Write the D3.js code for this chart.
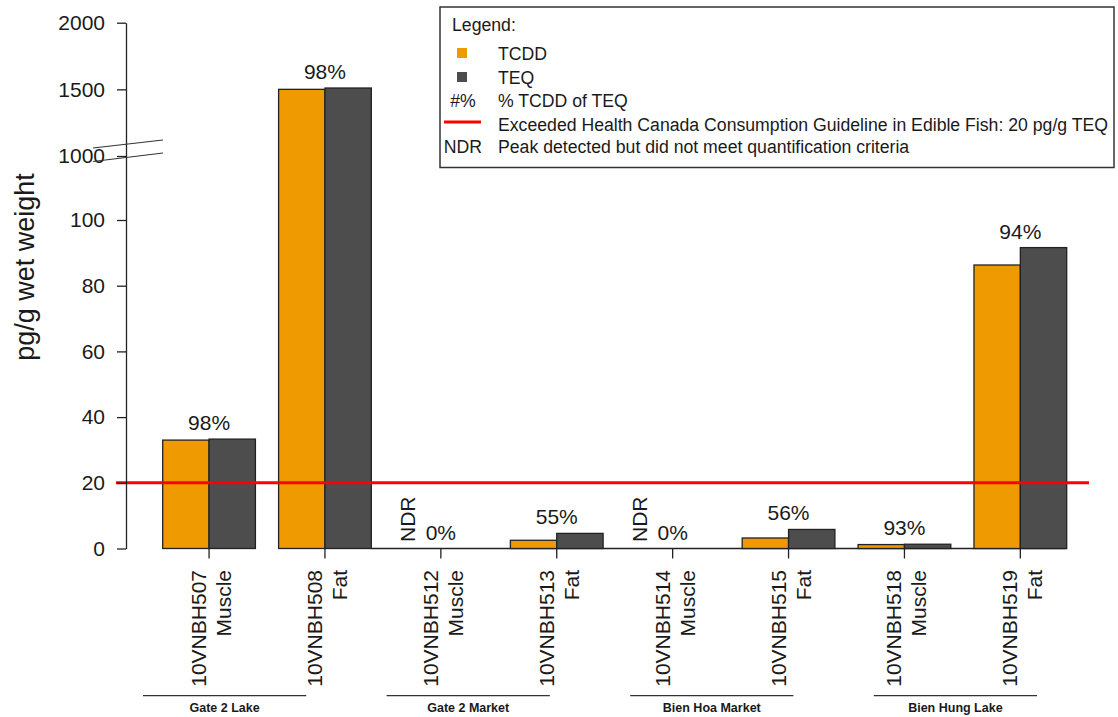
<!DOCTYPE html>
<html>
<head>
<meta charset="utf-8">
<script src="https://cdn.jsdelivr.net/npm/d3@7"></script>
<style>
  body { margin: 0; background: #fff; }
  text { font-family: "Liberation Sans", Arial, sans-serif; fill: #1a1a1a; }
</style>
</head>
<body>
<div class="chart"></div>
<script>
// sample data
var samples = ["10VNBH507", "10VNBH508", "10VNBH512", "10VNBH513", "10VNBH514", "10VNBH515", "10VNBH518", "10VNBH519"];
var tissue = ["Muscle", "Fat", "Muscle", "Fat", "Muscle", "Fat", "Muscle", "Fat"];
var tcdd = [33, 1500, 0, 2.5, 0, 3.2, 1.2, 86.3];
var teq = [33.3, 1510, 0, 4.6, 0, 5.8, 1.3, 91.6];
var pct = ["98%", "98%", "0%", "55%", "0%", "56%", "93%", "94%"];
var ndr = [false, false, true, false, true, false, false, false];
var groups = ["Gate 2 Lake", "Gate 2 Market", "Bien Hoa Market", "Bien Hung Lake"];
var yTicks = [0, 20, 40, 60, 80, 100, 1000, 1500, 2000];
var guideline = 20;

var series = ["TCDD", "TEQ"];
var colors = { TCDD: "#EE9A00", TEQ: "#4D4D4D" };

var width = 1118, height = 717;

var svg = d3.select(".chart").append("svg")
  .attr("width", width)
  .attr("height", height);

// broken axis: 0-100 on the bottom, 1000-2000 on top
var y = d3.scaleLinear()
  .domain([0, 100, 1000, 2000])
  .range([548.5, 220, 156, 22.7]);

var x = d3.scaleBand()
  .domain(samples)
  .range([162.7, 1066.7])
  .paddingInner(0.2)
  .paddingOuter(0);

var xs = d3.scaleBand()
  .domain(series)
  .range([0, x.bandwidth()]);

var xg = d3.scaleBand()
  .domain(groups)
  .range([143, 1037])
  .paddingInner(0.33)
  .paddingOuter(0);

var rows = samples.map(function(s, i) {
  return { sample: s, tissue: tissue[i], TCDD: tcdd[i], TEQ: teq[i], pct: pct[i], ndr: ndr[i] };
});

// baseline under the flat bars
svg.append("line")
  .attr("x1", x(samples[1]) + x.bandwidth())
  .attr("x2", x(samples[7]) + x.bandwidth())
  .attr("y1", y(0)).attr("y2", y(0))
  .attr("stroke", "#222").attr("stroke-width", 1.3);

// bars
var bar_g = svg.selectAll(".grp")
  .data(rows)
  .enter().append("g")
  .attr("class", "grp")
  .attr("transform", function(d) { return "translate(" + x(d.sample) + ",0)"; });

bar_g.selectAll("rect")
  .data(function(d) { return series.map(function(k) { return { key: k, value: d[k] }; }); })
  .enter().append("rect")
  .filter(function(d) { return d.value > 0; })
  .attr("x", function(d) { return xs(d.key); })
  .attr("width", xs.bandwidth())
  .attr("y", function(d) { return y(d.value); })
  .attr("height", function(d) { return y(0) - y(d.value); })
  .attr("fill", function(d) { return colors[d.key]; })
  .attr("stroke", "#222")
  .attr("stroke-width", 1.3);

// percentage labels
bar_g.append("text")
  .attr("x", x.bandwidth() / 2)
  .attr("y", function(d) { return y(Math.max(d.TCDD, d.TEQ)) - 9; })
  .attr("text-anchor", "middle")
  .attr("font-size", "21px")
  .text(function(d) { return d.pct; });

// NDR marks
bar_g.filter(function(d) { return d.ndr; })
  .append("text")
  .attr("transform", "translate(" + (xs("TCDD") + xs.bandwidth() / 2 - 2.5) + ",542) rotate(-90)")
  .attr("font-size", "21px")
  .text("NDR");

// guideline
svg.append("line")
  .attr("x1", 116).attr("x2", 1089)
  .attr("y1", y(guideline)).attr("y2", y(guideline))
  .attr("stroke", "#ff0000").attr("stroke-width", 3);

// y axis
var yAxis = svg.append("g")
  .attr("transform", "translate(126,0)")
  .call(d3.axisLeft(y).tickValues(yTicks).tickFormat(d3.format("d"))
    .tickSize(9).tickPadding(12).tickSizeOuter(0));
yAxis.select(".domain").attr("stroke", "#222").attr("stroke-width", 1.3);
yAxis.selectAll(".tick line").attr("stroke", "#222").attr("stroke-width", 1.3);
yAxis.selectAll(".tick text")
  .attr("font-size", "21px")
  .attr("font-family", "Liberation Sans, Arial, sans-serif")
  .attr("fill", "#1a1a1a");

// break marks
[[148, 140], [161.5, 153]].forEach(function(p) {
  svg.append("line")
    .attr("x1", 93).attr("y1", p[0])
    .attr("x2", 163).attr("y2", p[1])
    .attr("stroke", "#333").attr("stroke-width", 1.1);
});

svg.append("text")
  .attr("transform", "translate(34,267) rotate(-90)")
  .attr("text-anchor", "middle")
  .attr("font-size", "27px")
  .text("pg/g wet weight");

// x axis ticks
var xAxis = svg.append("g")
  .attr("transform", "translate(0," + y(0) + ")")
  .call(d3.axisBottom(x).tickSize(10).tickFormat(""));
xAxis.select(".domain").remove();
xAxis.selectAll(".tick line").attr("stroke", "#222").attr("stroke-width", 1.3);

// two-line rotated sample labels
var lab = svg.selectAll(".xlab")
  .data(rows)
  .enter().append("g")
  .attr("class", "xlab")
  .attr("transform", function(d) { return "translate(" + (x(d.sample) + x.bandwidth() / 2) + ",570)"; });

lab.append("text")
  .attr("transform", "translate(-3,0) rotate(-90)")
  .attr("text-anchor", "end")
  .attr("font-size", "21px")
  .text(function(d) { return d.sample; });

lab.append("text")
  .attr("transform", "translate(22,0) rotate(-90)")
  .attr("text-anchor", "end")
  .attr("font-size", "21px")
  .text(function(d) { return d.tissue; });

// location groups
var grp = svg.selectAll(".loc")
  .data(groups)
  .enter().append("g")
  .attr("class", "loc");

grp.append("line")
  .attr("x1", function(d) { return xg(d); })
  .attr("x2", function(d) { return xg(d) + xg.bandwidth(); })
  .attr("y1", 695.7).attr("y2", 695.7)
  .attr("stroke", "#333").attr("stroke-width", 1.2);

grp.append("text")
  .attr("x", function(d) { return xg(d) + xg.bandwidth() / 2; })
  .attr("y", 712)
  .attr("text-anchor", "middle")
  .attr("font-size", "12.5px")
  .attr("font-weight", "bold")
  .text(function(d) { return d; });

// legend
var leg = svg.append("g");
leg.append("rect")
  .attr("x", 440).attr("y", 7)
  .attr("width", 674).attr("height", 160.5)
  .attr("fill", "#fff")
  .attr("stroke", "#333").attr("stroke-width", 1.5);

// legend text is a little narrow in the original
function legText(tx, ty, str, anchor) {
  leg.append("text")
    .attr("transform", "translate(" + tx + "," + ty + ") scale(0.93,1)")
    .attr("text-anchor", anchor || "start")
    .attr("font-size", "19px")
    .text(str);
}

legText(452, 31, "Legend:");

var legRows = [
  { mark: "TCDD", label: "TCDD", y: 60 },
  { mark: "TEQ", label: "TEQ", y: 84 },
  { mark: "#%", label: "% TCDD of TEQ", y: 107 },
  { mark: "line", label: "Exceeded Health Canada Consumption Guideline in Edible Fish: 20 pg/g TEQ", y: 131 },
  { mark: "NDR", label: "Peak detected but did not meet quantification criteria", y: 153 }
];

legRows.forEach(function(r) {
  if (r.mark === "TCDD" || r.mark === "TEQ") {
    leg.append("rect")
      .attr("x", 457).attr("y", r.y - 12)
      .attr("width", 10).attr("height", 10)
      .attr("fill", colors[r.mark]);
  } else if (r.mark === "line") {
    leg.append("line")
      .attr("x1", 444).attr("x2", 481)
      .attr("y1", r.y - 9).attr("y2", r.y - 9)
      .attr("stroke", "#ff0000").attr("stroke-width", 3);
  } else {
    legText(463, r.y, r.mark, "middle");
  }
  legText(498, r.y, r.label);
});
</script>
</body>
</html>
